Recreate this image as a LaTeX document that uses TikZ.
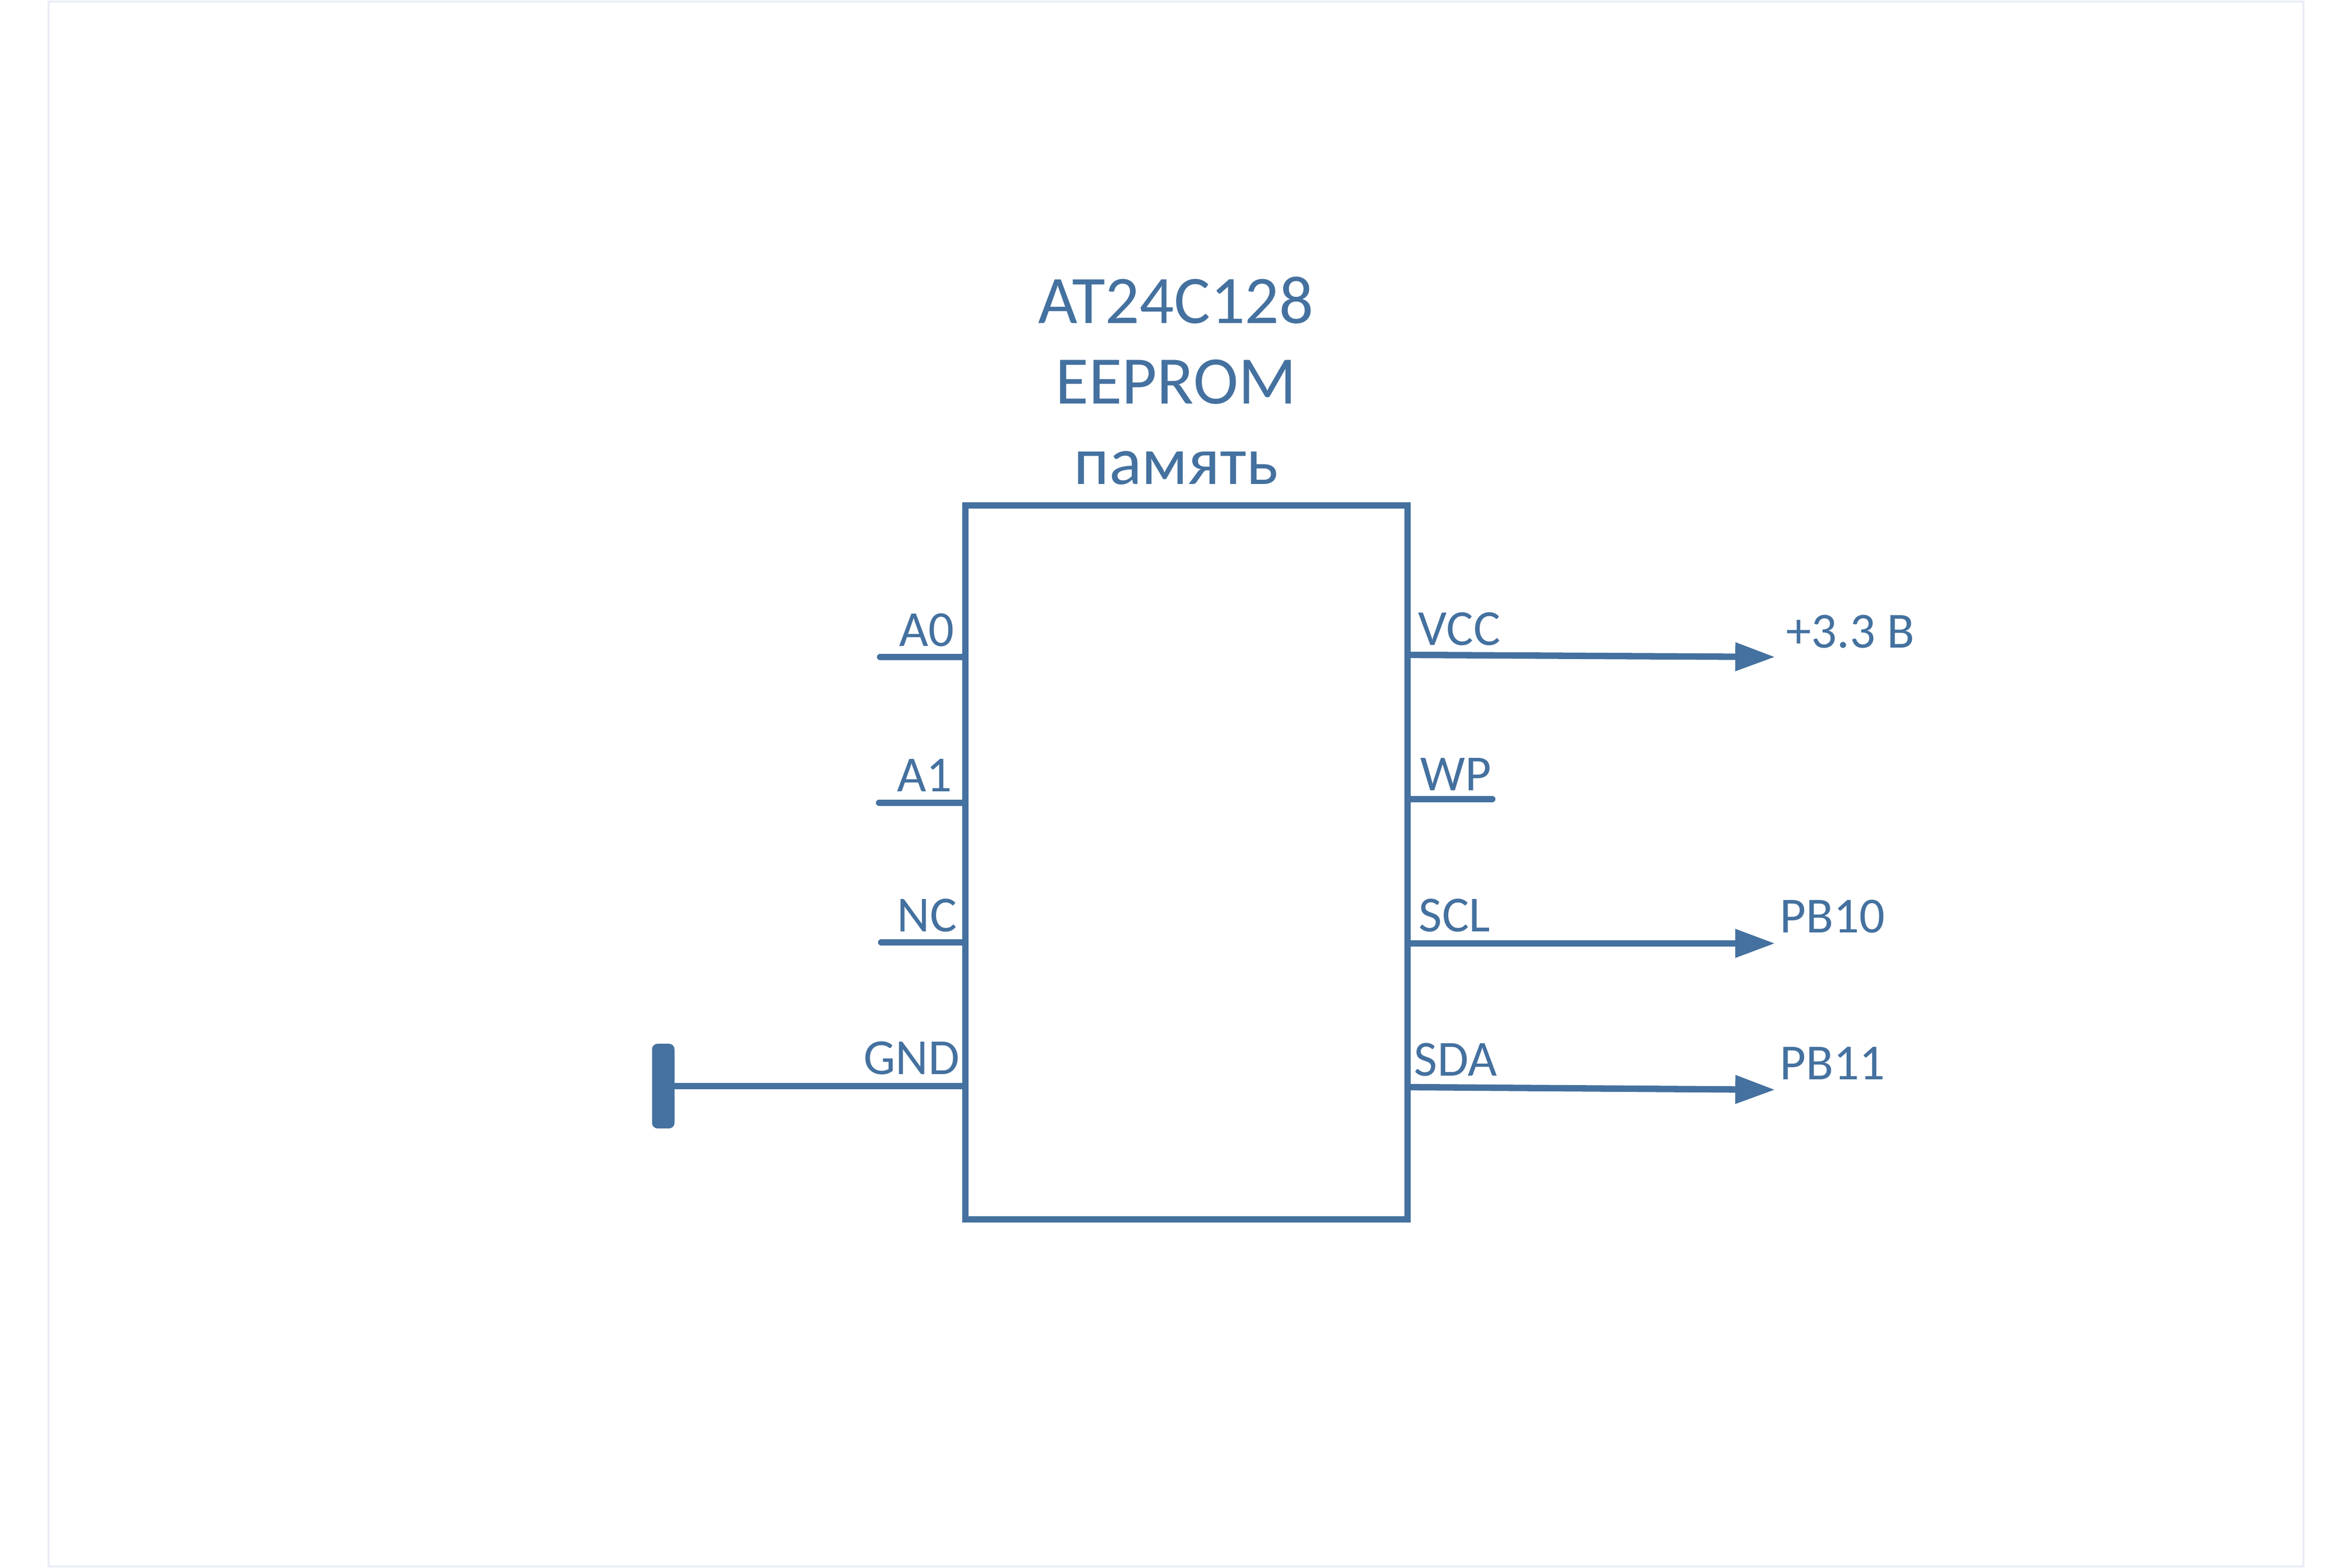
\documentclass[tikz,border=0pt]{standalone}
\usepackage{fontspec}
\setmainfont{Carlito}
\usetikzlibrary{arrows.meta}
\definecolor{chipblue}{HTML}{44719F}
\definecolor{framegray}{HTML}{E9EDF6}
\tikzset{
	chipbox/.style={draw=chipblue,line width=3.5pt,minimum width=8.46cm,minimum height=13.66cm,inner sep=0pt},
	pinline/.style={draw=chipblue,line width=3.5pt,line cap=round},
	wireout/.style={draw=chipblue,line width=3.5pt,-{Triangle[length=21.6pt,width=14.8pt]}},
	pinlabel/.style={text=chipblue,inner sep=0pt,font=\fontsize{27.5}{32}\selectfont},
	gndbar/.style={fill=chipblue,rounded corners=3pt,minimum width=0.43cm,minimum height=1.62cm,inner sep=0pt}
}
\begin{document}
\begin{tikzpicture}
	\useasboundingbox (0,0) rectangle (45,30);
	\draw[framegray,line width=1.15pt] (0.93,0.03) rectangle (44.07,29.97);
	\node[chipbox] (chip) at (22.70,13.50) {};
	\node[text=chipblue,align=center,inner sep=0pt,font=\fontsize{37}{43.8}\selectfont] (title) at (22.50,22.71) {AT24C128\\EEPROM\\память};
	% left pins
	\coordinate (a0end) at (16.84,17.43);
	\coordinate (a1end) at (16.82,14.64);
	\coordinate (ncend) at (16.86,11.97);
	\node[gndbar] (gndsym) at (12.69,9.22) {};
	\draw[pinline] (a0end) -- (a0end -| chip.west);
	\draw[pinline] (a1end) -- (a1end -| chip.west);
	\draw[pinline] (ncend) -- (ncend -| chip.west);
	\draw[pinline] (gndsym) -- (gndsym -| chip.west);
	\node[pinlabel,anchor=base west] (a0label) at (17.20,17.63) {A0};
	\node[pinlabel,anchor=base west] (a1label) at (17.16,14.85) {A1};
	\node[pinlabel,anchor=base west] (nclabel) at (17.16,12.17) {NC};
	\node[pinlabel,anchor=base west] (gndlabel) at (16.52,9.44) {GND};
	% right pins
	\coordinate (vccpin) at (26.95,17.47);
	\coordinate (vccend) at (33.96,17.43);
	\coordinate (wpend) at (28.55,14.71);
	\coordinate (sclend) at (33.96,11.95);
	\coordinate (sdapin) at (26.95,9.20);
	\coordinate (sdaend) at (33.96,9.15);
	\draw[wireout] (vccpin) -- (vccend);
	\draw[pinline] (wpend) -- (wpend -| chip.east);
	\draw[wireout] (sclend -| chip.east) -- (sclend);
	\draw[wireout] (sdapin) -- (sdaend);
	\node[pinlabel,anchor=base west] (vcclabel) at (27.13,17.65) {VCC};
	\node[pinlabel,anchor=base west] (wplabel) at (27.17,14.87) {WP};
	\node[pinlabel,anchor=base west] (scllabel) at (27.14,12.17) {SCL};
	\node[pinlabel,anchor=base west] (sdalabel) at (27.05,9.41) {SDA};
	\node[pinlabel,anchor=base west] (vcctext) at (34.17,17.60) {+3.3 В};
	\node[pinlabel,anchor=base west] (pb10text) at (34.05,12.15) {PB10};
	\node[pinlabel,anchor=base west] (pb11text) at (34.05,9.34) {PB11};
\end{tikzpicture}
\end{document}
